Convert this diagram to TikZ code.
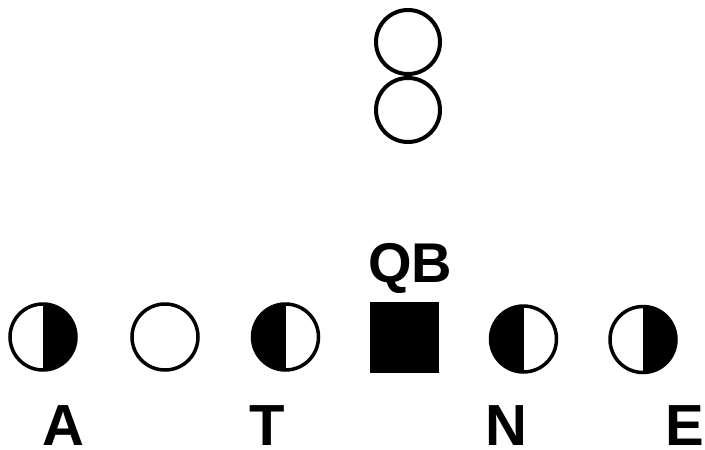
\documentclass[tikz,border=0pt]{standalone}
\usepackage{fontspec}
\setmainfont{Liberation Sans}

\begin{document}
\begin{tikzpicture}[
    x=1pt, y=-1pt,
    every node/.style={inner sep=0pt, outer sep=0pt},
    man/.style={circle, draw, line width=3.5pt, minimum size=66pt},
    deep/.style={circle, draw, line width=4pt, minimum size=64pt},
    darkright/.style={man, path picture={\fill (path picture bounding box.north) rectangle (path picture bounding box.south east);}},
    darkleft/.style={man, path picture={\fill (path picture bounding box.north) rectangle (path picture bounding box.south west);}},
    letter/.style={font=\fontsize{58}{58}\selectfont\bfseries, anchor=base}
  ]
    \useasboundingbox (0,0) rectangle (705,450);

    % backfield
    \node[deep] (deep1) at (408,42) {};
    \node[deep] (deep2) at (408,110) {};

    % front
    \node[darkright] (posA) at (43,337) {};
    \node[man] (posG) at (165,337) {};
    \node[darkleft] (posT) at (285.5,337) {};
    \node[fill, minimum width=69pt, minimum height=71pt] (qb) at (404.5,337.5) {};
    \node[darkleft] (posN) at (523.5,339) {};
    \node[darkright] (posE) at (643,339.5) {};

    \node[letter, font=\fontsize{56}{56}\selectfont\bfseries] (qbtag) at (410,282) {QB};
    \node[letter] (tagA) at (63.5,445) {A};
    \node[letter] (tagT) at (267.5,445) {T};
    \node[letter] (tagN) at (506.5,445) {N};
    \node[letter] (tagE) at (685,445) {E};
  \end{tikzpicture}
\end{document}
